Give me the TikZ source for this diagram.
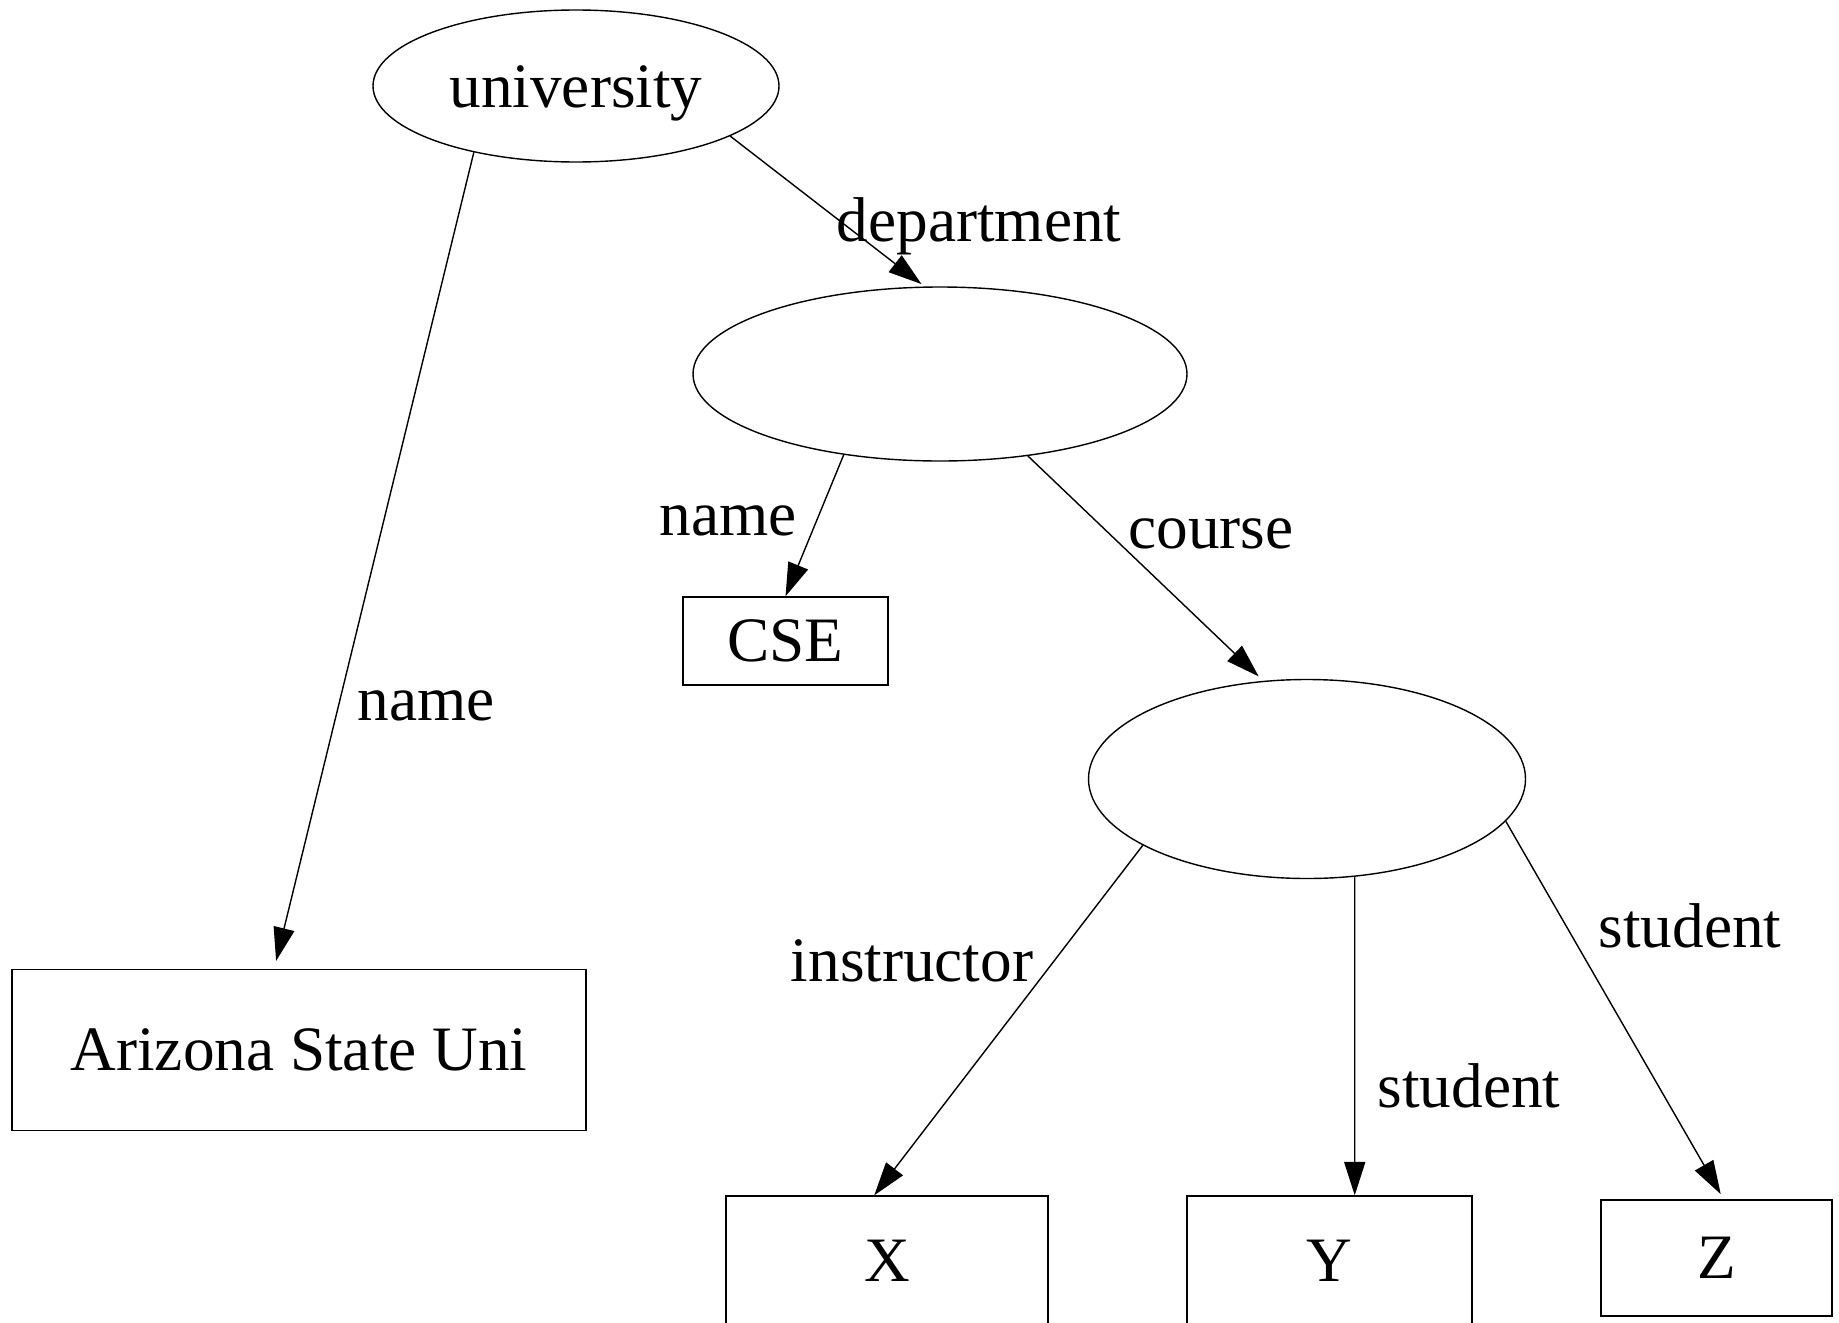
\documentclass[tikz,border=0pt]{standalone}
\usepackage{fontspec}
\setmainfont{Liberation Serif}
\usetikzlibrary{shapes.geometric,arrows.meta}
\begin{document}
\begin{tikzpicture}[>={Triangle[length=9.5pt,width=6pt]},
  font=\fontsize{18}{22}\selectfont,
  obj/.style={draw, ellipse, inner sep=0pt},
  val/.style={draw, rectangle, inner sep=0pt}]
\useasboundingbox (0,0) rectangle (18.39,-13.22);
\node[obj, minimum width=4.06cm, minimum height=1.52cm] (univ) at (5.76,-0.86) {\raisebox{-2pt}[\height][\depth]{university}};
\node[obj, minimum width=4.94cm, minimum height=1.74cm] (dept) at (9.40,-3.74) {};
\node[obj, minimum width=4.37cm, minimum height=1.99cm] (crs) at (13.07,-7.79) {};
\node[val, minimum width=2.05cm, minimum height=0.88cm] (cse) at (7.855,-6.41) {CSE};
\node[val, minimum width=5.74cm, minimum height=1.61cm] (asu) at (2.99,-10.50) {Arizona State Uni};
\node[val, minimum width=3.22cm, minimum height=1.30cm] (x) at (8.87,-12.61) {X};
\node[val, minimum width=2.85cm, minimum height=1.30cm] (y) at (13.295,-12.61) {Y};
\node[val, minimum width=2.31cm, minimum height=1.16cm] (z) at (17.165,-12.58) {Z};
\draw[->, shorten >=2.3pt] (univ.213) -- (asu.107);
\draw[->, shorten >=1.1pt] (univ.342) -- (dept.100);
\draw[->] (dept.220) -- (cse.north);
\draw[->, shorten >=1.8pt] (dept.317) -- (crs.114);
\draw[->] (crs.202) -- (x.101);
\draw[->] (crs.296) -- (y.69);
\draw[->, shorten >=1.7pt] (crs.348) -- (z.83);
\node (ldept) at (9.79,-2.26) {department};
\node (lname) at (4.26,-7.06) {name};
\node (lname2) at (7.28,-5.21) {name};
\node (lcrs) at (12.11,-5.34) {course};
\node (linstr) at (9.12,-9.61) {instructor};
\node (lstud) at (14.69,-10.86) {student};
\node (lstud2) at (16.90,-9.26) {student};
\end{tikzpicture}
\end{document}
